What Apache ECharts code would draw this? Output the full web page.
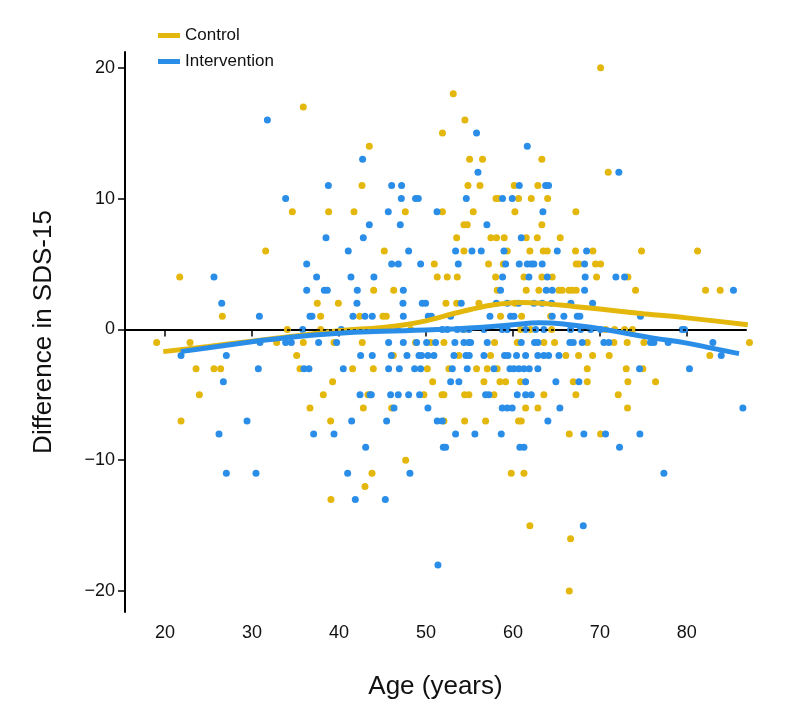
<!DOCTYPE html>
<html>
<head>
<meta charset="utf-8">
<script src="https://cdn.jsdelivr.net/npm/echarts@6/dist/echarts.min.js"></script>
<style>html,body{margin:0;padding:0;background:#fff}#c{width:809px;height:724px}</style>
</head>
<body>
<div id="c"></div>
<script>
// ---- data: ages grouped by integer SDS-15 difference ----
var controlRows = {
  "20": [70.08],
  "18": [53.14],
  "17": [35.9],
  "16": [54.48],
  "15": [51.9],
  "14": [43.49],
  "13": [55.02, 56.51, 63.33],
  "12": [70.96],
  "11": [42.65, 54.83, 56.21, 60.15, 62.87],
  "10": [58.05, 58.3, 60.65, 62.11, 63.99],
  "9": [34.64, 38.81, 41.73, 47.63, 51.9, 55.44, 60.23, 67.24],
  "8": [54.37, 54.75, 63.33],
  "7": [53.53, 57.47, 58.12, 59.0, 61.53, 62.8, 65.44],
  "6": [31.57, 45.21, 54.37, 59.35, 61.95, 63.49, 63.95, 67.2, 69.2, 74.79, 81.23],
  "5": [50.96, 57.2, 58.89, 67.28, 67.59, 69.5, 70.08],
  "4": [21.69, 51.3, 52.45, 53.6, 58.01, 61.27, 63.33, 64.52, 69.62, 73.22],
  "3": [43.99, 46.29, 58.2, 61.53, 62.99, 65.29, 65.67, 66.44, 66.82, 67.28, 74.1, 82.15, 83.83],
  "2": [37.51, 39.93, 52.3, 53.53, 56.09, 60.23],
  "1": [26.59, 37.89, 42.38, 45.06, 45.44, 58.58, 61.0, 64.33],
  "0": [34.06, 37.89, 48.24, 54.37, 60.88, 62.03, 64.45, 70.65, 71.69, 72.84, 73.75],
  "-1": [19.04, 22.88, 32.84, 35.9, 39.43, 42.68, 48.81, 50.54, 52.07, 57.89, 60.5, 63.56, 64.79, 68.55, 71.61, 73.14, 75.06, 87.2],
  "-2": [35.14, 46.25, 53.79, 57.43, 66.09, 67.55, 69.16, 71.07, 82.64],
  "-3": [23.57, 25.63, 26.4, 35.52, 41.57, 43.95, 50.16, 52.64, 55.82, 57.05, 58.2, 68.55, 73.03, 74.94],
  "-4": [39.27, 50.77, 56.67, 58.51, 59.16, 60.88, 66.94, 68.55, 73.22, 76.4],
  "-5": [23.95, 38.2, 43.33, 49.77, 51.84, 52.07, 54.45, 54.94, 57.82, 63.56, 67.24, 72.11],
  "-6": [36.67, 42.8, 46.06, 61.46, 62.87, 73.18],
  "-7": [21.84, 39.04, 52.07, 54.45, 56.86, 60.65, 60.96],
  "-8": [66.48, 70.08],
  "-10": [47.67],
  "-11": [43.8, 59.81, 61.27],
  "-12": [42.99],
  "-13": [39.08],
  "-15": [61.95],
  "-16": [66.63],
  "-20": [66.48]
};
var interventionRows = {
  "16": [31.77],
  "15": [55.82],
  "14": [61.65],
  "13": [42.72],
  "12": [55.98, 72.18],
  "11": [38.78, 46.06, 47.2, 60.73, 63.76, 64.1],
  "10": [33.87, 47.17, 48.81, 49.12, 54.64, 58.81, 59.92],
  "9": [45.67, 51.27, 63.45],
  "8": [43.49, 47.05, 57.01],
  "7": [38.51, 42.8, 60.96],
  "6": [41.07, 48.01, 53.41, 55.29, 56.36, 58.97, 65.1, 68.47],
  "5": [36.29, 46.06, 46.82, 49.39, 53.72, 59.16, 60.73, 61.65, 62.11, 62.41, 63.37, 68.24],
  "4": [25.63, 37.43, 41.38, 44.02, 58.81, 61.84, 63.95, 68.31, 71.84, 72.84],
  "3": [36.29, 38.32, 38.66, 42.11, 47.4, 58.58, 63.83, 64.52, 68.24, 85.36],
  "2": [26.52, 42.07, 47.36, 49.58, 49.96, 54.06, 58.09, 59.35, 60.65, 62.41, 63.37, 64.45, 66.67, 69.16],
  "1": [30.85, 36.67, 36.9, 41.61, 42.99, 43.83, 47.4, 50.27, 50.62, 52.84, 57.36, 59.73, 60.12, 64.52, 65.86, 67.4, 67.7, 74.67],
  "0": [35.83, 40.27, 44.6, 44.87, 46.71, 51.88, 52.45, 53.6, 54.29, 54.94, 56.67, 58.77, 59.35, 61.46, 62.61, 63.56, 66.63, 67.78, 68.93, 70.08, 79.46, 79.73],
  "-1": [30.92, 33.87, 34.52, 37.66, 39.73, 45.71, 47.4, 48.93, 50.08, 51.11, 53.33, 54.37, 54.94, 55.14, 57.05, 60.96, 62.49, 62.87, 66.55, 66.94, 67.97, 70.46, 71.03, 75.82, 76.21, 77.85, 82.99],
  "-2": [21.84, 27.05, 42.49, 43.83, 46.02, 47.82, 49.2, 49.5, 50.23, 50.92, 53.22, 54.6, 54.98, 56.67, 59.04, 59.43, 60.42, 61.46, 62.87, 63.56, 64.1, 65.29, 83.95],
  "-3": [30.73, 35.98, 36.55, 40.5, 45.71, 46.94, 48.7, 49.39, 53.03, 54.75, 57.82, 59.66, 60.12, 60.69, 61.27, 61.88, 62.87, 74.56, 80.3],
  "-4": [26.71, 52.84, 53.79, 61.46, 64.94, 67.59],
  "-5": [42.42, 43.57, 43.72, 45.94, 46.82, 48.01, 49.27, 56.86, 57.24, 60.5, 61.46, 62.11],
  "-6": [46.33, 50.23, 58.77, 59.35, 59.92, 65.4, 86.44],
  "-7": [29.43, 41.46, 45.48, 51.3, 51.88, 64.02],
  "-8": [26.21, 37.09, 39.43, 53.41, 55.63, 58.66, 68.16, 70.65, 74.6],
  "-9": [43.07, 52.0, 52.26, 60.8, 61.27, 72.26],
  "-11": [27.05, 30.46, 41.0, 48.16, 77.36],
  "-13": [41.88, 45.33],
  "-15": [68.09],
  "-18": [51.38]
};
// smoothed fit lines (age, fitted difference)
var controlFitAge = [19.8, 25, 30, 35, 40, 45, 48, 50, 52, 55, 58, 61, 64, 67, 70, 75, 80, 87];
var controlFitVal = [-1.7, -1.3, -0.9, -0.5, -0.1, 0.15, 0.4, 0.65, 1.0, 1.5, 1.9, 2.05, 1.95, 1.75, 1.55, 1.2, 0.88, 0.35];
var interventionFitAge = [21.8, 25, 30, 33.7, 40, 45, 50, 55, 60, 63, 66, 70, 73, 76, 80, 83, 86];
var interventionFitVal = [-1.7, -1.4, -0.95, -0.65, -0.3, -0.15, -0.05, 0.1, 0.35, 0.5, 0.4, 0.05, -0.3, -0.65, -1.05, -1.45, -1.85];
var xTicks = [20, 30, 40, 50, 60, 70, 80];
var yTicks = [-20, -10, 0, 10, 20];

function rowsToPoints(rows) {
  var pts = [];
  Object.keys(rows).forEach(function (k) {
    rows[k].forEach(function (a) { pts.push([a, Number(k)]); });
  });
  return pts;
}
function zip(a, b) { return a.map(function (v, i) { return [v, b[i]]; }); }

var YEL = '#E4B70C', BLU = '#2A8EE8';
var FONT = 'Liberation Sans, Arial, sans-serif';

var chart = echarts.init(document.getElementById('c'), null, {renderer: 'canvas'});
chart.setOption({
  animation: false,
  backgroundColor: '#fff',
  grid: {left: 125, right: 63, top: 52, bottom: 112, containLabel: false},
  legend: {
    data: [{name: 'Control', icon: 'rect'}, {name: 'Intervention', icon: 'rect'}],
    orient: 'vertical', left: 153, top: 22,
    itemWidth: 22, itemHeight: 5, itemGap: 9,
    textStyle: {fontFamily: FONT, fontSize: 17, color: '#111'}
  },
  xAxis: {
    type: 'value', min: 15.4, max: 86.8,
    name: 'Age (years)', nameLocation: 'middle', nameGap: 62,
    nameTextStyle: {fontFamily: FONT, fontSize: 26, color: '#111'},
    axisLine: {lineStyle: {color: '#000', width: 2}},
    axisTick: {customValues: xTicks, length: 7, lineStyle: {color: '#000', width: 1.5}},
    axisLabel: {customValues: xTicks, fontFamily: FONT, fontSize: 18, color: '#111', margin: 12},
    splitLine: {show: false}
  },
  yAxis: {
    type: 'value', min: -21.6, max: 21.2,
    name: 'Difference in SDS-15', nameLocation: 'middle', nameGap: 68, nameRotate: 90,
    nameTextStyle: {fontFamily: FONT, fontSize: 26, color: '#111'},
    axisLine: {show: true, lineStyle: {color: '#000', width: 2}},
    axisTick: {show: true, customValues: yTicks, length: 7, lineStyle: {color: '#000', width: 1.5}},
    axisLabel: {customValues: yTicks, fontFamily: FONT, fontSize: 18, color: '#111', margin: 10,
      formatter: function (v) { return String(v).replace('-', '\u2212'); }},
    splitLine: {show: false}
  },
  series: [
    {
      name: 'Control pts', type: 'scatter', clip: false, symbolSize: 7,
      itemStyle: {color: YEL, opacity: 1}, data: rowsToPoints(controlRows), z: 2,
      markLine: {
        silent: true, symbol: 'none', label: {show: false},
        lineStyle: {color: '#000', type: [3, 3], width: 1.5},
        data: [{yAxis: 0}]
      }
    },
    {
      name: 'Intervention pts', type: 'scatter', clip: false, symbolSize: 7,
      itemStyle: {color: BLU, opacity: 1}, data: rowsToPoints(interventionRows), z: 3
    },
    {
      name: 'Control', type: 'line', smooth: true, showSymbol: false, symbol: 'none',
      lineStyle: {color: YEL, width: 5}, itemStyle: {color: YEL},
      data: zip(controlFitAge, controlFitVal), z: 4
    },
    {
      name: 'Intervention', type: 'line', smooth: true, showSymbol: false, symbol: 'none',
      lineStyle: {color: BLU, width: 5}, itemStyle: {color: BLU},
      data: zip(interventionFitAge, interventionFitVal), z: 5
    }
  ]
});
</script>
</body>
</html>
